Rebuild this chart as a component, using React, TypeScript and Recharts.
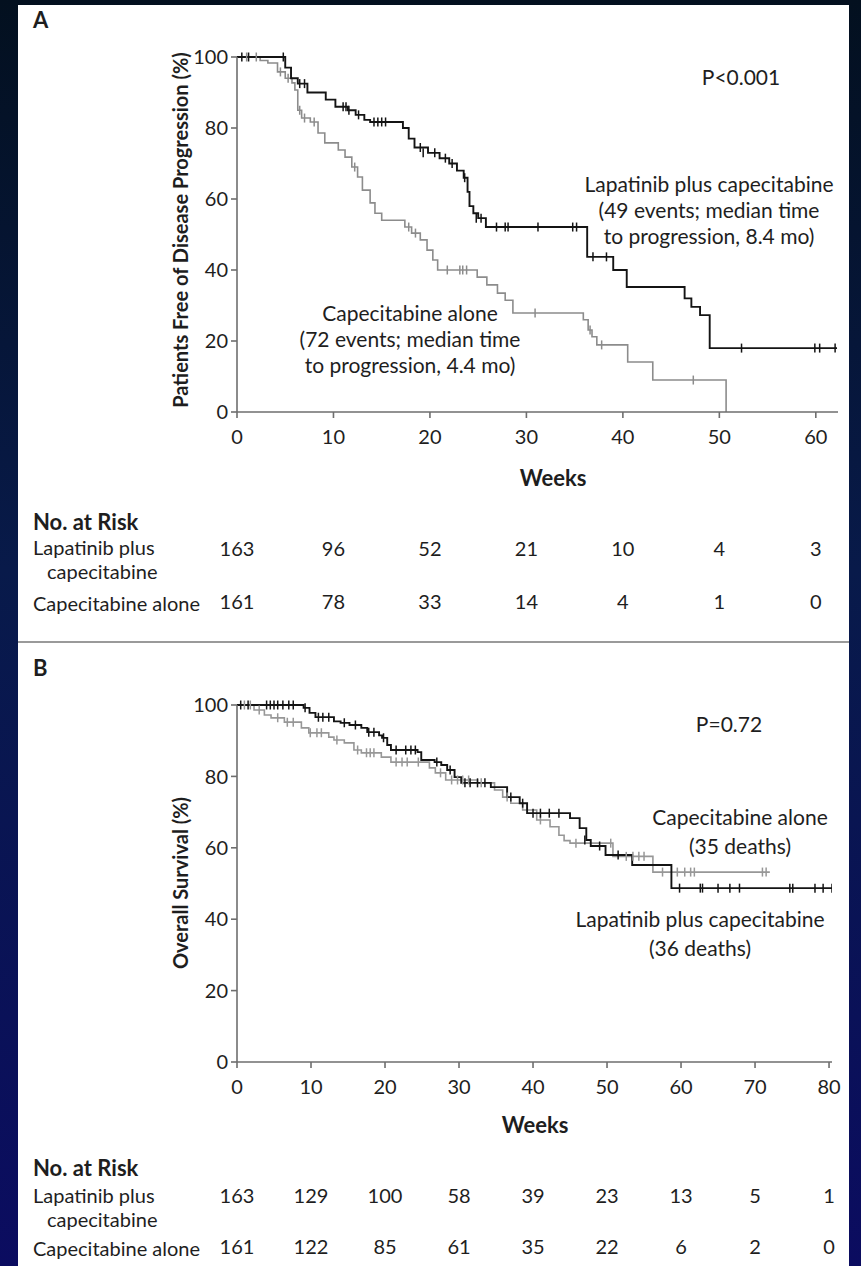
import React from 'react';
import { LineChart, Line, XAxis, YAxis } from 'recharts';

type Pt = [number, number];

// Panel A – progression-free (weeks, % free of progression)
const pfsLapatinib: Pt[] = [
  [0, 100], [5.0, 97], [5.6, 94], [6.3, 92.5], [7.3, 90], [9.2, 88], [10.2, 86], [11.5, 85],
  [12.3, 83.7], [13.2, 82.3], [13.8, 81.7], [17.2, 80], [17.8, 77], [18.4, 74.5], [19.8, 73],
  [21, 71.5], [22, 70], [22.8, 68], [23.5, 66], [23.9, 62], [24.1, 58], [24.5, 56], [25.0, 54.6],
  [25.8, 52.1], [36.3, 43.7], [39, 40], [40.4, 35.2], [46.4, 32], [47.1, 29.6], [48, 27.3],
  [49, 18], [62.2, 18],
];
const pfsLapatinibCens: Pt[] = [
  [0.5, 100], [1.2, 100], [4.8, 100], [6.5, 92.5], [7, 92.5], [11, 86], [11.3, 86], [11.6, 85],
  [12.6, 83.7], [14.2, 81.7], [14.6, 81.7], [15, 81.7], [15.4, 81.7], [19, 74.5], [19.3, 73],
  [20.5, 73], [21.6, 71.5], [22.3, 70], [23.6, 66], [24.8, 54.6], [25.3, 54.6], [26.9, 52.1],
  [27.8, 52.1], [28.1, 52.1], [31.2, 52.1], [34.8, 52.1], [35.2, 52.1], [36.9, 43.7], [38.3, 43.7],
  [52.3, 18], [59.9, 18], [60.4, 18], [62, 18],
];
const pfsCape: Pt[] = [
  [0, 100], [2.4, 99], [3.2, 98.3], [4.2, 95.8], [5.0, 94], [5.7, 92.7], [6.0, 90.7], [6.3, 85],
  [6.7, 82.8], [7.6, 81.7], [8.4, 78.6], [9.1, 75.8], [10.5, 73.8], [11.2, 71.8], [11.9, 69],
  [12.5, 66.2], [13.0, 62.5], [13.8, 58.9], [14.3, 56], [15.0, 54], [17.4, 52.1], [18.1, 50.4],
  [19.0, 48.5], [19.7, 45.6], [20.3, 42.8], [20.8, 40], [24.9, 38], [25.9, 35.8], [27.0, 33.5],
  [27.8, 31.5], [28.6, 27.9], [35.9, 26], [36.4, 23.1], [36.8, 21.2], [37.3, 18.9], [40.5, 14.1],
  [43.1, 9], [50.7, 0],
];
const pfsCapeCens: Pt[] = [
  [1, 100], [2, 100], [4.5, 95.8], [5.3, 94], [6.5, 85], [7, 82.8], [8, 81.7], [12.2, 69],
  [17.8, 52.1], [18.5, 50.4], [21.8, 40], [23.1, 40], [23.4, 40], [23.8, 40], [30.9, 27.9],
  [36.6, 23.1], [37.8, 18.9], [47.3, 9],
];
const weeksA = [0, 10, 20, 30, 40, 50, 60];
const riskALapatinib = [163, 96, 52, 21, 10, 4, 3];
const riskACape = [161, 78, 33, 14, 4, 1, 0];

// Panel B – overall survival (weeks, % alive)
const osLapatinib: Pt[] = [
  [0, 100], [9, 99.2], [9.8, 97.8], [10.6, 96.6], [13.1, 95.4], [14, 95.0], [15.2, 94.4],
  [16.8, 93.6], [17.6, 92.4], [19.2, 91.5], [19.6, 90.8], [20.3, 88.8], [20.8, 87.4], [24.4, 86.8],
  [24.9, 84.6], [26.7, 84], [27.6, 83.2], [28.4, 81.8], [29.4, 79.8], [30.3, 78.2], [34.3, 77],
  [36.5, 74.2], [38.2, 72.5], [39.2, 69.7], [45, 68.3], [46.3, 65.5], [47.2, 62.2], [47.8, 60.5],
  [49.8, 58], [53.4, 55.2], [58.7, 48.7], [80.5, 48.7],
];
const osLapatinibCens: Pt[] = [
  [0.5, 100], [1.5, 100], [4, 100], [4.5, 100], [5, 100], [5.5, 100], [6.2, 100], [7, 100],
  [7.6, 100], [9.2, 99.2], [11, 96.6], [11.6, 96.6], [12.4, 96.6], [14.5, 95], [16, 94.4],
  [17.8, 92.4], [18.5, 92.4], [19.8, 90.8], [21.5, 87.4], [22.8, 87.4], [23.5, 87.4], [24.1, 87.4],
  [27, 84], [28.8, 81.8], [30.8, 78.2], [31.5, 78.2], [32.5, 78.2], [33.5, 78.2], [37, 74.2],
  [38.6, 72.5], [40, 69.7], [41, 69.7], [42.2, 69.7], [43.5, 69.7], [47, 62.2], [49, 60.5],
  [51.5, 58], [59.8, 48.7], [62.6, 48.7], [62.9, 48.7], [65, 48.7], [66.6, 48.7], [67.9, 48.7],
  [74.7, 48.7], [75.1, 48.7], [78.1, 48.7], [79.2, 48.7], [80.4, 48.7],
];
const osCape: Pt[] = [
  [0, 100], [2.3, 98.6], [3.7, 97.2], [4.6, 96.4], [6.4, 95.2], [8.7, 93.6], [9.7, 92.2],
  [12.4, 91.0], [13.1, 90.2], [14.5, 89.4], [15.8, 87.4], [16.8, 86.6], [19.5, 85.4], [20.8, 84],
  [26, 82.4], [26.8, 81], [28.2, 79], [32.5, 78.2], [34.8, 76.2], [35.9, 74.2], [37, 72.5],
  [38.6, 70.6], [40.5, 67.8], [42.3, 65.9], [43.5, 63.5], [44.2, 62], [45, 61.3], [50.8, 57.6],
  [56.2, 53.2], [72, 53.2],
];
const osCapeCens: Pt[] = [
  [1, 100], [1.8, 100], [3, 98.6], [5.5, 96.4], [6.8, 95.2], [7.6, 95.2], [9.9, 92.2], [10.8, 92.2],
  [11.4, 92.2], [13.5, 90.2], [16.3, 87.4], [17.5, 86.6], [18, 86.6], [18.5, 86.6], [21.5, 84],
  [22.3, 84], [23, 84], [24.5, 84], [27.5, 81], [29, 79], [29.8, 79], [30.5, 79], [31.3, 79],
  [33, 78.2], [36.5, 74.2], [41, 67.8], [45.8, 61.3], [50.5, 61.3], [52.6, 57.6], [53.5, 57.6],
  [54.3, 57.6], [55, 57.6], [57.5, 53.2], [59.5, 53.2], [60.5, 53.2], [61.3, 53.2], [61.8, 53.2],
  [71, 53.2], [71.5, 53.2],
];
const weeksB = [0, 10, 20, 30, 40, 50, 60, 70, 80];
const riskBLapatinib = [163, 129, 100, 58, 39, 23, 13, 5, 1];
const riskBCape = [161, 122, 85, 61, 35, 22, 6, 2, 0];

const pctTicks = [0, 20, 40, 60, 80, 100];

const FONT = 'Lato, "Open Sans", sans-serif';
const BLACK = '#141414';
const GREY = '#8c8c8c';

const rows = (pts: Pt[]) => pts.map(([t, s]) => ({ t, s }));

const censorDot = (color: string) => (props: any) => {
  const { cx, cy, index } = props;
  if (cx == null || cy == null) return <g key={`c-${index}`} />;
  return <line key={`c-${index}`} x1={cx} x2={cx} y1={cy - 4.5} y2={cy + 4.5} stroke={color} strokeWidth={1.5} />;
};

type Curve = { steps: Pt[]; cens: Pt[]; color: string; width: number };

function KMPanel(props: {
  top: number; height: number; plotTop: number; plotBottom: number; plotRight: number;
  xMax: number; weeks: number[]; curves: Curve[]; risk1: number[]; risk2: number[];
  riskGap1: number; riskGap2: number;
}) {
  const { top, height, plotTop, plotBottom, plotRight, xMax, weeks, curves, risk1, risk2 } = props;
  const mainH = 100, r1H = 53, r2H = 50;
  const bottom = height - plotBottom - mainH - r1H - r2H;
  const tickStyle = { fill: '#1e1e1e', fontSize: 20, fontFamily: FONT };
  const riskStyle = { fill: '#1e1e1e', fontSize: 20, fontFamily: FONT };
  // invisible anchor rows so that the risk-table axes get their scale
  const anchorRows = weeks.map((t) => ({ t, s: 0 }));
  return (
    <div style={{ position: 'absolute', left: 0, top, width: 861, height }}>
      <LineChart width={861} height={height} margin={{ top: plotTop, right: 861 - plotRight, left: 0, bottom }}>
        <XAxis
          xAxisId={0} type="number" dataKey="t" domain={[0, xMax]} ticks={weeks} interval={0}
          height={mainH} stroke="#6e6e6e" strokeWidth={1.6} tickSize={6} tickMargin={12} tick={tickStyle}
          allowDataOverflow
        />
        <XAxis
          xAxisId="r1" type="number" dataKey="t" domain={[0, xMax]} ticks={weeks} interval={0} height={r1H}
          axisLine={false} tickLine={false} tickSize={0} tickMargin={props.riskGap1}
          tick={riskStyle} tickFormatter={(_v: number, i: number) => String(risk1[i])}
          allowDataOverflow
        />
        <XAxis
          xAxisId="r2" type="number" dataKey="t" domain={[0, xMax]} ticks={weeks} interval={0} height={r2H}
          axisLine={false} tickLine={false} tickSize={0} tickMargin={props.riskGap2}
          tick={riskStyle} tickFormatter={(_v: number, i: number) => String(risk2[i])}
          allowDataOverflow
        />
        <YAxis
          type="number" domain={[0, 100]} ticks={pctTicks} interval={0} width={237}
          stroke="#6e6e6e" strokeWidth={1.6} tickSize={6} tickMargin={3} tick={tickStyle}
        />
        <Line xAxisId="r1" data={anchorRows} dataKey="s" stroke="none" dot={false} activeDot={false} isAnimationActive={false} />
        <Line xAxisId="r2" data={anchorRows} dataKey="s" stroke="none" dot={false} activeDot={false} isAnimationActive={false} />
        {curves.map((c, i) => (
          <Line
            key={`s-${i}`} data={rows(c.steps)} dataKey="s" type="stepAfter" stroke={c.color}
            strokeWidth={c.width} dot={false} activeDot={false} isAnimationActive={false}
          />
        ))}
        {curves.map((c, i) => (
          <Line
            key={`c-${i}`} data={rows(c.cens)} dataKey="s" stroke="none" dot={censorDot(c.color)}
            activeDot={false} isAnimationActive={false}
          />
        ))}
      </LineChart>
    </div>
  );
}

function Txt(p: { x: number; y: number; children: React.ReactNode; size?: number; bold?: boolean; center?: boolean }) {
  return (
    <div
      style={{
        position: 'absolute', left: p.x, top: p.y, whiteSpace: 'nowrap', fontFamily: FONT,
        fontSize: p.size ?? 21, fontWeight: p.bold ? 700 : 400, color: '#1e1e1e', lineHeight: 1,
        transform: p.center ? 'translate(-50%, -50%)' : 'translateY(-50%)',
      }}
    >
      {p.children}
    </div>
  );
}

function VTxt(p: { x: number; y: number; children: React.ReactNode }) {
  return (
    <div
      style={{
        position: 'absolute', left: p.x, top: p.y, whiteSpace: 'nowrap', fontFamily: FONT, fontSize: 20,
        fontWeight: 700, color: '#1e1e1e', lineHeight: 1, transform: 'translate(-50%, -50%) rotate(-90deg)',
      }}
    >
      {p.children}
    </div>
  );
}

export default function App() {
  return (
    <div
      style={{
        position: 'absolute', left: 0, top: 0, width: 861, height: 1266, overflow: 'hidden',
        background: 'linear-gradient(180deg, #03101f 0%, #081a4a 45%, #0b0c60 100%)',
      }}
    >
      <div style={{ position: 'absolute', left: 18, top: 5, width: 831, height: 1261, background: '#fff' }} />
      <div style={{ position: 'absolute', left: 18, top: 641, width: 831, height: 2, background: '#9a9a9a' }} />

      <KMPanel
        top={0} height={640} plotTop={57} plotBottom={412} plotRight={838} xMax={62.3} weeks={weeksA}
        curves={[
          { steps: pfsCape, cens: pfsCapeCens, color: GREY, width: 1.6 },
          { steps: pfsLapatinib, cens: pfsLapatinibCens, color: BLACK, width: 1.9 },
        ]}
        risk1={riskALapatinib} risk2={riskACape} riskGap1={30} riskGap2={30}
      />
      <KMPanel
        top={640} height={626} plotTop={65} plotBottom={422} plotRight={832} xMax={80.4} weeks={weeksB}
        curves={[
          { steps: osCape, cens: osCapeCens, color: '#979797', width: 1.6 },
          { steps: osLapatinib, cens: osLapatinibCens, color: BLACK, width: 1.9 },
        ]}
        risk1={riskBLapatinib} risk2={riskBCape} riskGap1={27} riskGap2={25}
      />

      {/* Panel A text */}
      <Txt x={33} y={20} size={22} bold>A</Txt>
      <VTxt x={180} y={230}>Patients Free of Disease Progression (%)</VTxt>
      <Txt x={741} y={76} center>P&lt;0.001</Txt>
      <Txt x={709} y={183} center>Lapatinib plus capecitabine</Txt>
      <Txt x={709} y={209} center>(49 events; median time</Txt>
      <Txt x={709} y={235} center>to progression, 8.4 mo)</Txt>
      <Txt x={410} y={312} center>Capecitabine alone</Txt>
      <Txt x={410} y={338} center>(72 events; median time</Txt>
      <Txt x={410} y={364} center>to progression, 4.4 mo)</Txt>
      <Txt x={553} y={478} size={22} bold center>Weeks</Txt>
      <Txt x={33} y={522} size={22} bold>No. at Risk</Txt>
      <Txt x={33} y={547} size={20}>Lapatinib plus</Txt>
      <Txt x={47} y={571} size={20}>capecitabine</Txt>
      <Txt x={33} y={603} size={20}>Capecitabine alone</Txt>

      {/* Panel B text */}
      <Txt x={33} y={668} size={22} bold>B</Txt>
      <VTxt x={180} y={883}>Overall Survival (%)</VTxt>
      <Txt x={729} y={723} center>P=0.72</Txt>
      <Txt x={740} y={816} center>Capecitabine alone</Txt>
      <Txt x={740} y={845} center>(35 deaths)</Txt>
      <Txt x={700} y={918} center>Lapatinib plus capecitabine</Txt>
      <Txt x={700} y={947} center>(36 deaths)</Txt>
      <Txt x={535} y={1125} size={22} bold center>Weeks</Txt>
      <Txt x={33} y={1168} size={22} bold>No. at Risk</Txt>
      <Txt x={33} y={1195} size={20}>Lapatinib plus</Txt>
      <Txt x={47} y={1219} size={20}>capecitabine</Txt>
      <Txt x={33} y={1248} size={20}>Capecitabine alone</Txt>
    </div>
  );
}
